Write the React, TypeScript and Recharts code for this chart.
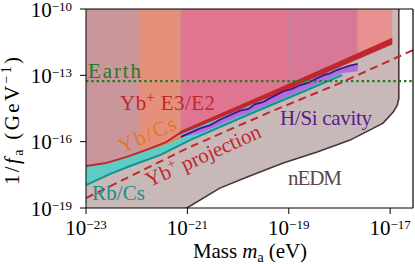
import React from "react";
import { ComposedChart, Area, Line, XAxis, YAxis, ReferenceLine } from "recharts";

const FONT = "'Liberation Serif', 'Times New Roman', serif";

// all values are log10: x = mass m_a (eV), y = 1/f_a (GeV^-1)
const xTicks = [-23, -21, -19, -17];
const yTicks = [-19, -16, -13, -10];
const xDomain = [-23, -16.55];
const yDomain = [-19, -10];

const nedmEdge = [
  [-23, -19.2], [-21.15, -19.19], [-21.01, -19.0], [-20.36, -18.1], [-19.82, -17.6],
  [-19.11, -16.97], [-18.44, -16.47], [-17.79, -15.93], [-17.14, -15.16], [-16.94, -14.66],
  [-16.86, -14.35], [-16.83, -14.05],
];
const tealEdge = [
  [-23, -17.96], [-22.53, -17.47], [-22.13, -17.1], [-21.54, -16.61], [-20.95, -15.93],
  [-19.77, -14.75], [-18.78, -13.8], [-17.95, -12.99],
];
const redEdge = [
  [-23, -17.1], [-22.61, -16.97], [-22.21, -16.7], [-21.82, -16.38], [-21.42, -16.02],
  [-21.15, -15.61], [-19.17, -13.67], [-16.96, -11.45],
];
const redBand = [
  [-21.15, -15.69, -15.53], [-20.0, -14.58, -14.38], [-19.17, -13.79, -13.55],
  [-18.0, -12.64, -12.36], [-16.96, -11.6, -11.3],
];
const orangeEdge = [[-21.7, -16.3], [-21.52, -16.16], [-21.13, -15.8]];
const purpleBand = [
  [-21.13, -15.8, -15.78], [-20.75, -15.62, -15.4], [-20.55, -15.43, -15.25],
  [-20.36, -15.23, -15.01], [-19.96, -14.83, -14.6], [-19.8, -14.7, -14.52],
  [-19.66, -14.55, -14.3], [-19.5, -14.42, -14.2], [-19.37, -14.3, -14.03],
  [-19.1, -14.02, -13.72], [-18.95, -13.88, -13.62], [-18.78, -13.72, -13.45],
  [-18.6, -13.55, -13.32], [-18.44, -13.38, -13.13], [-18.3, -13.25, -12.98],
  [-18.2, -13.14, -12.92], [-18.05, -13.0, -12.76], [-17.95, -12.9, -12.68],
  [-17.8, -12.86, -12.56], [-17.64, -12.82, -12.48],
];
const stripRosy = [[-23, -17.1], [-22.61, -16.97], [-22.21, -16.7], [-21.95, -16.49]];
const stripOrange = [[-21.95, -16.49], [-21.52, -16.16], [-21.13, -15.8]];
const stripPink = [[-21.13, -15.59], [-19.17, -13.67], [-19.0, -13.5]];
const stripMauve = [[-19.0, -13.5], [-17.64, -12.14]];
const stripSalmon = [[-17.64, -12.14], [-16.96, -11.45]];
const projection = [
  [-23, -18.55], [-20.95, -16.24], [-19.37, -14.66], [-17.99, -13.35], [-16.55, -11.86],
];
const earth = [[-23, -13.26], [-16.55, -13.26]];

const pts = (a: number[][]) => a.map(([x, y]) => ({ x, y }));
const toTop = (a: number[][]) => a.map(([x, y]) => ({ x, r: [y, yDomain[1]] }));
const band = (a: number[][]) => a.map(([x, lo, hi]) => ({ x, r: [lo, hi] }));

const nedmLine = [...nedmEdge, [-16.83, yDomain[1]]];

const XTick = (props: any) => {
  const { x, y, payload } = props;
  const v = Math.round(payload.value);
  return (
    <text x={x} y={y + 19} textAnchor="middle" fontFamily={FONT} fontSize={21} fill="#000">
      <tspan>10</tspan>
      <tspan fontSize={13} dy={-6}>{"\u2212" + Math.abs(v)}</tspan>
    </text>
  );
};

const YTick = (props: any) => {
  const { x, y, payload } = props;
  const v = Math.round(payload.value);
  return (
    <text x={x - 6} y={y + 7.5} textAnchor="end" fontFamily={FONT} fontSize={21} fill="#000">
      <tspan>10</tspan>
      <tspan fontSize={13} dy={-6}>{"\u2212" + Math.abs(v)}</tspan>
    </text>
  );
};

const area = (data: any[], fill: string) => (
  <Area data={data} dataKey="r" type="linear" fill={fill} fillOpacity={1} stroke="none"
    isAnimationActive={false} dot={false} activeDot={false} />
);

export default function App() {
  return (
    <div style={{ position: "absolute", left: 0, top: 0, width: 415, height: 264, background: "#fff" }}>
      <ComposedChart width={415} height={264} margin={{ top: 9, right: 2, bottom: 0, left: 0 }}>
        <XAxis type="number" dataKey="x" domain={xDomain} allowDataOverflow ticks={xTicks} interval={0}
          tick={XTick} tickSize={6} height={56} axisLine={{ stroke: "#000" }} tickLine={{ stroke: "#000" }} />
        <YAxis type="number" domain={yDomain} allowDataOverflow ticks={yTicks} interval={0}
          tick={YTick} tickSize={6} width={86} axisLine={{ stroke: "#000" }} tickLine={{ stroke: "#000" }} />
        {area(toTop(nedmEdge), "#c8b8b8")}
        {area(toTop(tealEdge), "#5ecbc4")}
        {area(band(purpleBand), "#b06edc")}
        {area(toTop(stripRosy), "#c8969b")}
        {area(toTop(stripOrange), "#e4907a")}
        {area(toTop(stripPink), "#e07592")}
        {area(toTop(stripMauve), "#d77897")}
        {area(toTop(stripSalmon), "#e89090")}
        {area(band(redBand), "#c1272d")}
        <Line data={pts(nedmLine)} dataKey="y" type="linear" stroke="#4a3434" strokeWidth={1.6}
          dot={false} activeDot={false} isAnimationActive={false} />
        <Line data={pts(tealEdge)} dataKey="y" type="linear" stroke="#17918c" strokeWidth={2}
          dot={false} activeDot={false} isAnimationActive={false} />
        <Line data={pts(purpleBand.map(([x, , hi]) => [x, hi]))} dataKey="y" type="linear" stroke="#4b0f8c" strokeWidth={1.8}
          dot={false} activeDot={false} isAnimationActive={false} />
        <Line data={pts(orangeEdge)} dataKey="y" type="linear" stroke="#e8892a" strokeWidth={1.6}
          dot={false} activeDot={false} isAnimationActive={false} />
        <Line data={pts(redEdge)} dataKey="y" type="linear" stroke="#c1272d" strokeWidth={2}
          dot={false} activeDot={false} isAnimationActive={false} />
        <Line data={pts(projection)} dataKey="y" type="linear" stroke="#c1272d" strokeWidth={2}
          strokeDasharray="8 5" dot={false} activeDot={false} isAnimationActive={false} />
        <Line data={pts(earth)} dataKey="y" type="linear" stroke="#1e7d1e" strokeWidth={2.4}
          strokeDasharray="2.4 2.9" dot={false} activeDot={false} isAnimationActive={false} />
        <ReferenceLine y={yDomain[1]} stroke="#000" strokeWidth={1.2} />
        <ReferenceLine x={xDomain[1]} stroke="#000" strokeWidth={1.2} />
      </ComposedChart>
      <svg width={415} height={264} style={{ position: "absolute", left: 0, top: 0, pointerEvents: "none" }}
        fontFamily={FONT} fontSize={21}>
        <text x={88} y={78} fill="#237a23" textLength={53}>Earth</text>
        <text x={120} y={110} fill="#c1272d" textLength={95}>
          Yb<tspan fontSize={14} dy={-8}>+</tspan><tspan dy={8}>{" E3/E2"}</tspan>
        </text>
        <text x={150} y={141} fill="#e0782a" textAnchor="middle" textLength={61}
          transform="rotate(-24 150 141)">Yb/Cs</text>
        <text x={92} y={200} fill="#178f8c" textLength={53}>Rb/Cs</text>
        <text x={206} y={162} fill="#c1272d" textAnchor="middle" textLength={124}
          transform="rotate(-24 206 162)">
          Yb<tspan fontSize={14} dy={-8}>+</tspan><tspan dy={8}>{" projection"}</tspan>
        </text>
        <text x={280} y={125} fill="#5b1a8e" textLength={92}>H/Si cavity</text>
        <text x={288} y={185} fill="#5c4848" textLength={54}>nEDM</text>
        <text x={250} y={258} fill="#000" textAnchor="middle" textLength={114}>
          Mass <tspan fontStyle="italic">m</tspan><tspan fontSize={14} dy={4}>a</tspan><tspan dy={-4}>{" (eV)"}</tspan>
        </text>
        <text x={19} y={121} fill="#000" textAnchor="middle" textLength={128} transform="rotate(-90 19 121)">
          1/<tspan fontStyle="italic">f</tspan><tspan fontSize={14} dy={4}>a</tspan><tspan dy={-4}>{" (GeV"}</tspan><tspan fontSize={14} dy={-8}>{"\u22121"}</tspan><tspan dy={8}>)</tspan>
        </text>
      </svg>
    </div>
  );
}
